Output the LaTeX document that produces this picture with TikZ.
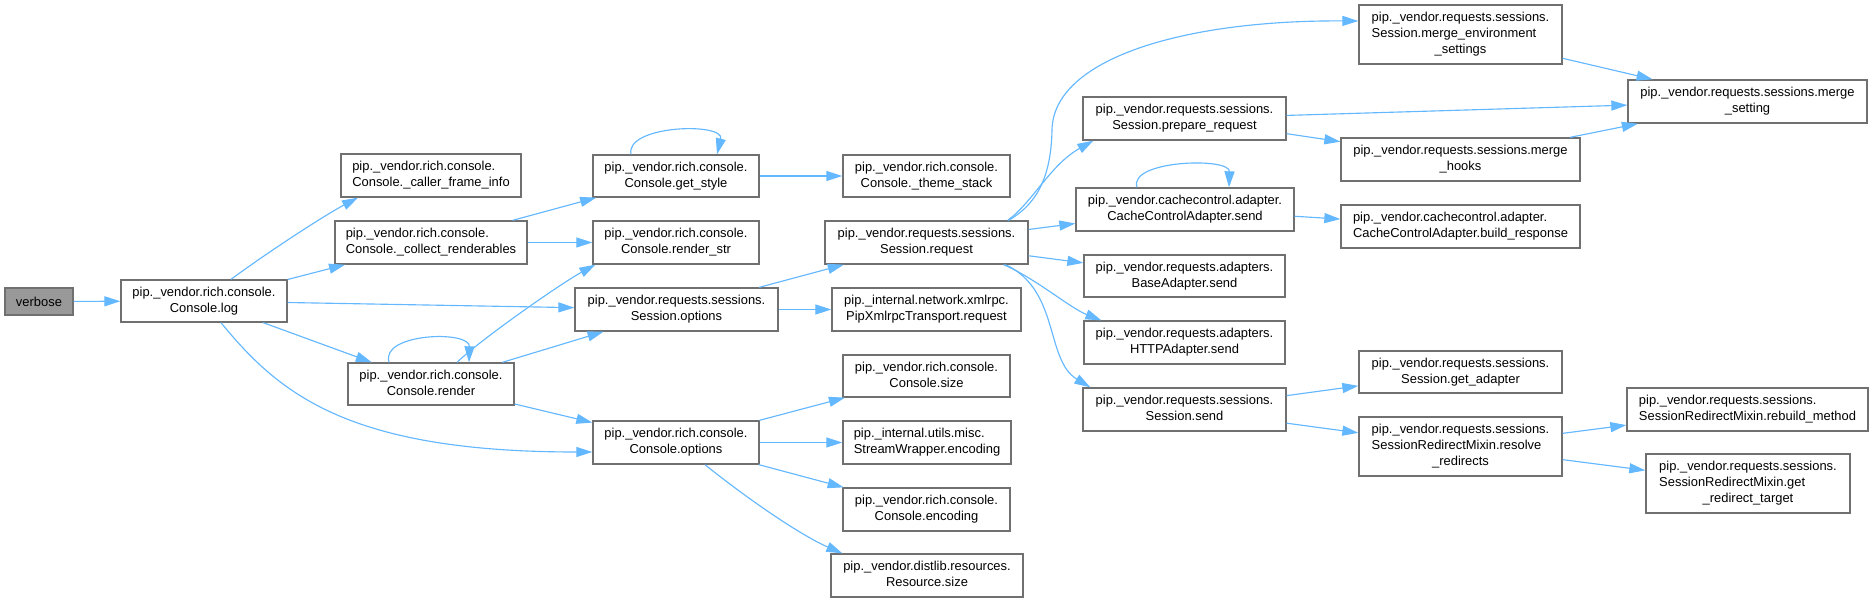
\documentclass[tikz,border=0pt]{standalone}
\usepackage{fontspec}
\setmainfont{Liberation Sans}
\usetikzlibrary{arrows.meta,calc}
\definecolor{edgec}{HTML}{63B8FF}
\definecolor{bord}{HTML}{707070}
\definecolor{rootf}{HTML}{999999}
\newcommand{\lab}[1]{\begin{tabular}{@{}l@{}}#1\end{tabular}}
\newcommand{\lastln}[1]{\multicolumn{1}{@{}c@{}}{#1}}
\newcommand{\gnode}[6]{\node[gbox, minimum width={(#4-#2)*0.75pt}, minimum height={(#5-#3)*0.75pt}] (#1) at ({(#2+#4)/2},{(#3+#5)/2}) {#6};}
\begin{document}
\begin{tikzpicture}[x=0.75pt,y=-0.75pt,
  gbox/.style={draw=bord, fill=white, line width=1pt, inner sep=0pt, font=\fontsize{9.7}{12}\selectfont},
  rootbox/.style={gbox, fill=rootf},
  edge/.style={draw=edgec, line width=0.85pt, -{Triangle[length=12pt,width=7.5pt]}}]
\fill[white] (0,0) rectangle (1873,603);
\useasboundingbox (0,0) rectangle (1873,603);

\node[rootbox, minimum width={68*0.75pt}, minimum height={27*0.75pt}] (verbose) at (39,301.5) {verbose};
\gnode{log}{121}{280}{287}{322}{\lab{pip.\_vendor.rich.console.\\\lastln{Console.log}}}
\gnode{caller}{341}{154}{521}{197}{\lab{pip.\_vendor.rich.console.\\\lastln{Console.\_caller\_frame\_info}}}
\gnode{collect}{335}{221}{527}{264}{\lab{pip.\_vendor.rich.console.\\\lastln{Console.\_collect\_renderables}}}
\gnode{render}{348}{363}{514}{405}{\lab{pip.\_vendor.rich.console.\\\lastln{Console.render}}}
\gnode{getstyle}{593}{155}{759}{197}{\lab{pip.\_vendor.rich.console.\\\lastln{Console.get\_style}}}
\gnode{renderstr}{593}{221}{759}{264}{\lab{pip.\_vendor.rich.console.\\\lastln{Console.render\_str}}}
\gnode{sessopts}{575}{288}{778}{331}{\lab{pip.\_vendor.requests.sessions.\\\lastln{Session.options}}}
\gnode{consopts}{593}{421}{759}{464}{\lab{pip.\_vendor.rich.console.\\\lastln{Console.options}}}
\gnode{themestack}{843}{155}{1010}{197}{\lab{pip.\_vendor.rich.console.\\\lastln{Console.\_theme\_stack}}}
\gnode{sessreq}{825}{221}{1028}{264}{\lab{pip.\_vendor.requests.sessions.\\\lastln{Session.request}}}
\gnode{xmlrpc}{832}{288}{1021}{331}{\lab{pip.\_internal.network.xmlrpc.\\\lastln{PipXmlrpcTransport.request}}}
\gnode{conssize}{843}{355}{1010}{397}{\lab{pip.\_vendor.rich.console.\\\lastln{Console.size}}}
\gnode{streamenc}{843}{421}{1011}{464}{\lab{pip.\_internal.utils.misc.\\\lastln{StreamWrapper.encoding}}}
\gnode{consenc}{843}{488}{1010}{531}{\lab{pip.\_vendor.rich.console.\\\lastln{Console.encoding}}}
\gnode{ressize}{831}{554}{1023}{597}{\lab{pip.\_vendor.distlib.resources.\\\lastln{Resource.size}}}
\gnode{mergeenv}{1359}{5}{1562}{64}{\lab{pip.\_vendor.requests.sessions.\\Session.merge\_environment\\\lastln{\_settings}}}
\gnode{prepreq}{1083}{97}{1286}{140}{\lab{pip.\_vendor.requests.sessions.\\\lastln{Session.prepare\_request}}}
\gnode{ccsend}{1076}{188}{1294}{231}{\lab{pip.\_vendor.cachecontrol.adapter.\\\lastln{CacheControlAdapter.send}}}
\gnode{basesend}{1084}{255}{1285}{297}{\lab{pip.\_vendor.requests.adapters.\\\lastln{BaseAdapter.send}}}
\gnode{httpsend}{1084}{321}{1285}{364}{\lab{pip.\_vendor.requests.adapters.\\\lastln{HTTPAdapter.send}}}
\gnode{sesssend}{1083}{388}{1286}{431}{\lab{pip.\_vendor.requests.sessions.\\\lastln{Session.send}}}
\gnode{mergeset}{1628}{80}{1867}{123}{\lab{pip.\_vendor.requests.sessions.merge\\\lastln{\_setting}}}
\gnode{mergehooks}{1341}{138}{1580}{181}{\lab{pip.\_vendor.requests.sessions.merge\\\lastln{\_hooks}}}
\gnode{buildresp}{1341}{205}{1580}{248}{\lab{pip.\_vendor.cachecontrol.adapter.\\\lastln{CacheControlAdapter.build\_response}}}
\gnode{getadapter}{1359}{351}{1562}{393}{\lab{pip.\_vendor.requests.sessions.\\\lastln{Session.get\_adapter}}}
\gnode{resolve}{1359}{417}{1562}{476}{\lab{pip.\_vendor.requests.sessions.\\SessionRedirectMixin.resolve\\\lastln{\_redirects}}}
\gnode{rebuild}{1627}{388}{1868}{431}{\lab{pip.\_vendor.requests.sessions.\\\lastln{SessionRedirectMixin.rebuild\_method}}}
\gnode{getredir}{1646}{454}{1850}{513}{\lab{pip.\_vendor.requests.sessions.\\SessionRedirectMixin.get\\\lastln{\_redirect\_target}}}

% straight edges
\draw[edge] (verbose) -- (log);
\draw[edge] (log) -- (collect);
\draw[edge] (log) -- (sessopts);
\draw[edge] (log) -- (render);
\draw[edge] (collect) -- (getstyle);
\draw[edge] (collect) -- (renderstr);
\draw[edge] (render) -- (sessopts);
\draw[edge] (render) -- (consopts);
\draw[edge] (getstyle) -- (themestack);
\draw[edge] (sessopts) -- (sessreq);
\draw[edge] (sessopts) -- (xmlrpc);
\draw[edge] (consopts) -- (conssize);
\draw[edge] (consopts) -- (streamenc);
\draw[edge] (consopts) -- (consenc);
\draw[edge] (sessreq) -- (ccsend);
\draw[edge] (sessreq) -- (basesend);
\draw[edge] (prepreq) -- (mergeset);
\draw[edge] (prepreq) -- (mergehooks);
\draw[edge] (ccsend) -- (buildresp);
\draw[edge] (mergeenv) -- (mergeset);
\draw[edge] (mergehooks) -- (mergeset);
\draw[edge] (sesssend) -- (getadapter);
\draw[edge] (sesssend) -- (resolve);
\draw[edge] (resolve) -- (rebuild);
\draw[edge] (resolve) -- (getredir);

% curved edges
\draw[edge] ($(log.north)+(27,0)$) .. controls (268,252) and (325,215) .. ($(caller.south)+(-73,0)$);
\draw[edge] ($(log.south)+(17,0)$) .. controls (280,395) and (350,452) .. ($(consopts.west)+(0,9.5)$);
\draw[edge] ($(render.north)+(26,0)$) .. controls (480,340) and (560,284) .. ($(renderstr.south west)+(3,0)$);
\draw[edge] ($(consopts.south)+(29,0)$) .. controls (745,497) and (800,535) .. ($(ressize.north west)+(12,0)$);
\draw[edge] ($(sessreq.north east)+(-20,0)$) .. controls (1035,205) and (1051,180) .. (1052,130) .. controls (1053,60) and (1180,20) .. ($(mergeenv.west)+(0,-13.5)$);
\draw[edge] ($(sessreq.north east)+(-21,0)$) .. controls (1032,203) and (1050,165) .. ($(prepreq.south west)+(11,0)$);
\draw[edge] ($(sessreq.south)+(77,0)$) .. controls (1035,278) and (1070,308) .. ($(httpsend.north west)+(18,0)$);
\draw[edge] ($(sessreq.south)+(79,0)$) .. controls (1060,290) and (1045,360) .. ($(sesssend.north west)+(8,0)$);

% self loops
\draw[edge] ($(getstyle.north)+(-45,0)$) .. controls (625,125) and (725,122) .. ($(getstyle.north)+(41,0)$);
\draw[edge] ($(render.north)+(-42,0)$) .. controls (380,333) and (470,330) .. ($(render.north)+(38,0)$);
\draw[edge] ($(ccsend.north)+(-48,0)$) .. controls (1128,160) and (1230,157) .. ($(ccsend.north)+(44,0)$);
\end{tikzpicture}
\end{document}
